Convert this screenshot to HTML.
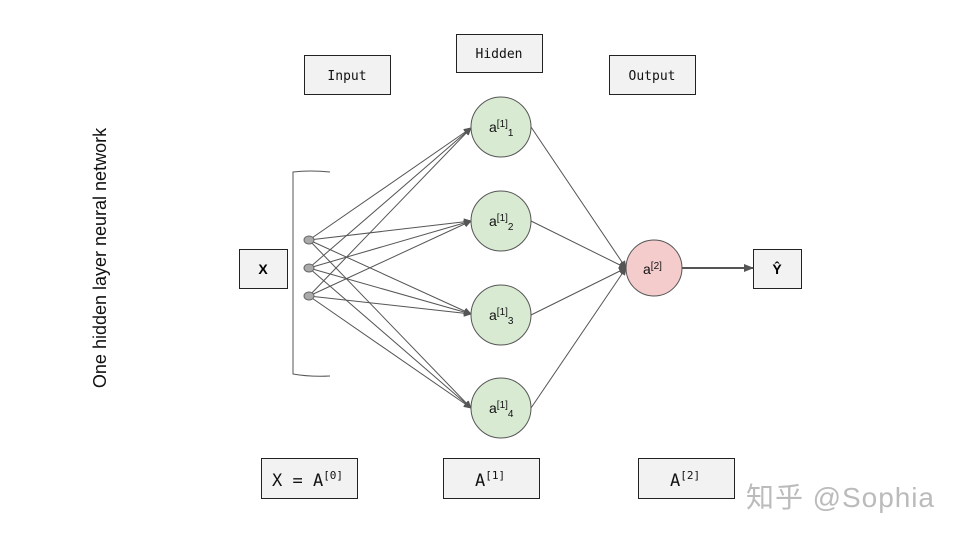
<!DOCTYPE html>
<html><head><meta charset="utf-8"><style>
body{margin:0;background:#fff;}
</style></head><body>
<svg width="960" height="540" viewBox="0 0 960 540" xmlns="http://www.w3.org/2000/svg" style="font-family:'Liberation Sans',sans-serif">
<defs><marker id="a" markerWidth="8" markerHeight="8" refX="7" refY="4" orient="auto" markerUnits="userSpaceOnUse"><path d="M0,0.5 L8,4 L0,7.5z" fill="#555"/></marker>
<marker id="b" markerWidth="10" markerHeight="10" refX="9" refY="5" orient="auto" markerUnits="userSpaceOnUse"><path d="M0,1 L10,5 L0,9z" fill="#555"/></marker></defs>
<rect width="960" height="540" fill="#fff"/>
<g fill="#f2f2f2" stroke="#222" stroke-width="1">
<rect x="304.5" y="55.5" width="86" height="39"/>
<rect x="456.5" y="34.5" width="86" height="38"/>
<rect x="609.5" y="55.5" width="86" height="39"/>
<rect x="239.5" y="249.5" width="48" height="39"/>
<rect x="753.5" y="249.5" width="48" height="39"/>
<rect x="261.5" y="458.5" width="96" height="40"/>
<rect x="443.5" y="458.5" width="96" height="40"/>
<rect x="638.5" y="458.5" width="96" height="40"/>
</g>
<g style="font-family:'DejaVu Sans Mono','Liberation Mono',monospace" font-size="13" fill="#111" text-anchor="middle">
<text x="347" y="80">Input</text>
<text x="499" y="58">Hidden</text>
<text x="652" y="80">Output</text>
</g>
<text x="263" y="274" font-size="14" font-weight="bold" text-anchor="middle">X</text>
<text x="777" y="274" font-size="14" font-weight="bold" text-anchor="middle">Ŷ</text>
<g style="font-family:'DejaVu Sans Mono','Liberation Mono',monospace" font-size="17" fill="#111">
<text x="272" y="486">X = A<tspan font-size="11" dy="-7">[0]</tspan></text>
<text x="475" y="486">A<tspan font-size="11" dy="-7">[1]</tspan></text>
<text x="670" y="486">A<tspan font-size="11" dy="-7">[2]</tspan></text>
</g>
<text x="106" y="258" font-size="18" text-anchor="middle" transform="rotate(-90 106 258)" fill="#111">One hidden layer neural network</text>
<path d="M330,172 Q310,170 293,172 L293,374 Q310,377 330,376" fill="none" stroke="#555"/>
<g stroke="#555" stroke-width="1" marker-end="url(#a)">
<line x1="309" y1="240" x2="471" y2="128"/><line x1="309" y1="268" x2="471" y2="128"/><line x1="309" y1="296" x2="471" y2="128"/>
<line x1="309" y1="240" x2="471" y2="221"/><line x1="309" y1="268" x2="471" y2="221"/><line x1="309" y1="296" x2="471" y2="221"/>
<line x1="309" y1="240" x2="471" y2="314"/><line x1="309" y1="268" x2="471" y2="314"/><line x1="309" y1="296" x2="471" y2="314"/>
<line x1="309" y1="240" x2="471" y2="408"/><line x1="309" y1="268" x2="471" y2="408"/><line x1="309" y1="296" x2="471" y2="408"/>
<line x1="531" y1="127" x2="626" y2="268"/><line x1="531" y1="221" x2="626" y2="268"/><line x1="531" y1="315" x2="626" y2="268"/><line x1="531" y1="408" x2="626" y2="268"/>
</g>
<line x1="682" y1="268" x2="753" y2="268" stroke="#555" stroke-width="2" marker-end="url(#b)"/>
<g fill="#aaa" stroke="#666"><ellipse cx="309" cy="240" rx="5" ry="4"/><ellipse cx="309" cy="268" rx="5" ry="4"/><ellipse cx="309" cy="296" rx="5" ry="4"/></g>
<g fill="#d9ead3" stroke="#555">
<circle cx="501" cy="127" r="30"/><circle cx="501" cy="221" r="30"/><circle cx="501" cy="315" r="30"/><circle cx="501" cy="408" r="30"/>
</g>
<circle cx="654" cy="268" r="28" fill="#f4cccc" stroke="#555"/>
<g font-size="14" fill="#111">
<text x="489" y="132">a<tspan font-size="10" dy="-5">[1]</tspan><tspan font-size="10" dy="9">1</tspan></text>
<text x="489" y="226">a<tspan font-size="10" dy="-5">[1]</tspan><tspan font-size="10" dy="9">2</tspan></text>
<text x="489" y="320">a<tspan font-size="10" dy="-5">[1]</tspan><tspan font-size="10" dy="9">3</tspan></text>
<text x="489" y="413">a<tspan font-size="10" dy="-5">[1]</tspan><tspan font-size="10" dy="9">4</tspan></text>
<text x="643" y="274">a<tspan font-size="10" dy="-5">[2]</tspan></text>
</g>
<text x="746" y="507" font-size="28" fill="#bbb" style="font-family:'Liberation Sans','Noto Sans CJK SC',sans-serif" textLength="188">知乎 @Sophia</text>
</svg>
</body></html>
